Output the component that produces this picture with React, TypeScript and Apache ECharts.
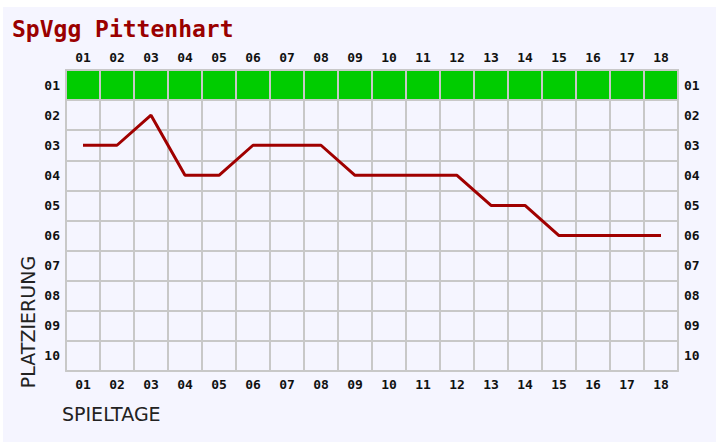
import React, { useEffect, useRef } from "react";
import * as echarts from "echarts";

const spieltage = ["01","02","03","04","05","06","07","08","09","10","11","12","13","14","15","16","17","18"];
const plaetze = ["01","02","03","04","05","06","07","08","09","10"];
const platzierung = [3,3,2,4,4,3,3,3,4,4,4,4,5,5,6,6,6,6];
const teamName = "SpVgg Pittenhart";
const xName = "SPIELTAGE";
const yName = "PLATZIERUNG";

export default function App() {
  const ref = useRef<HTMLDivElement>(null);
  useEffect(() => {
    if (!ref.current) return;
    const chart = echarts.init(ref.current, null, { renderer: "svg" });
    const gridColor = "#c8c8c8";
    const labelStyle = {
      fontFamily: "DejaVu Sans Mono",
      fontWeight: "bold" as const,
      fontSize: 13,
      color: "#111111",
    };
    const xAxisBase = {
      type: "category" as const,
      data: spieltage,
      boundaryGap: true,
      axisTick: { show: false },
      axisLine: { show: true, lineStyle: { color: gridColor, width: 2 } },
      splitLine: { show: true, lineStyle: { color: gridColor, width: 2 } },
      axisLabel: { ...labelStyle, margin: 7, interval: 0 },
    };
    const yAxisBase = {
      type: "category" as const,
      data: plaetze,
      inverse: true,
      boundaryGap: true,
      axisTick: { show: false },
      axisLine: { show: true, lineStyle: { color: gridColor, width: 2 } },
      splitLine: { show: true, lineStyle: { color: gridColor, width: 2 } },
      axisLabel: { ...labelStyle, margin: 6, interval: 0 },
    };
    chart.setOption({
      animation: false,
      backgroundColor: "#ffffff",
      grid: { left: 66, right: 38, top: 70, height: 301 },
      xAxis: [
        { ...xAxisBase, position: "bottom" },
        { ...xAxisBase, position: "top", axisLabel: { ...labelStyle, margin: 6, interval: 0 } },
      ],
      yAxis: [
        { ...yAxisBase, position: "left" },
        { ...yAxisBase, position: "right" },
      ],
      graphic: [
        {
          type: "rect",
          z: -10,
          shape: { x: 3, y: 7, width: 713, height: 435 },
          style: { fill: "#f5f5ff" },
          silent: true,
        },
        {
          type: "text",
          x: 12,
          y: 29,
          style: {
            text: teamName,
            fill: "#9a0000",
            font: "bold 23px 'DejaVu Sans Mono'",
            textVerticalAlign: "middle",
          },
        },
        {
          type: "text",
          x: 28,
          y: 322,
          rotation: Math.PI / 2,
          style: {
            text: yName,
            fill: "#222222",
            font: "19px 'DejaVu Sans'",
            align: "center",
            verticalAlign: "middle",
          },
        },
        {
          type: "text",
          x: 62,
          y: 414,
          style: {
            text: xName,
            fill: "#222222",
            font: "19px 'DejaVu Sans'",
            align: "left",
            verticalAlign: "middle",
          },
        },
      ],
      series: [
        {
          type: "custom",
          xAxisIndex: 0,
          yAxisIndex: 0,
          z: 1,
          silent: true,
          data: spieltage.map((_, i) => [i, 0]),
          renderItem: (params: any, api: any) => {
            const c = api.coord([api.value(0), api.value(1)]);
            const s = api.size([1, 1]);
            return {
              type: "rect",
              shape: { x: c[0] - s[0] / 2, y: c[1] - s[1] / 2, width: s[0], height: s[1] },
              style: { fill: "#00cc00", stroke: gridColor, lineWidth: 2 },
            };
          },
        },
        {
          type: "line",
          xAxisIndex: 0,
          yAxisIndex: 0,
          z: 3,
          symbol: "none",
          data: platzierung.map((p, i) => [i, p - 1]),
          lineStyle: { color: "#a00000", width: 3 },
        },
      ],
    });
    return () => chart.dispose();
  }, []);
  return (
    <div
      ref={ref}
      style={{ position: "absolute", left: 0, top: 0, width: 716, height: 442 }}
    />
  );
}
